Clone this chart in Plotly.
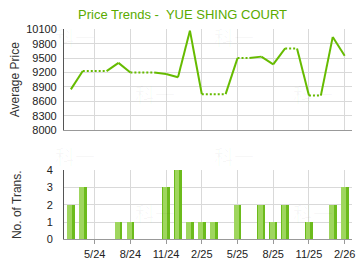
import plotly.graph_objects as go

months = ["3/24", "4/24", "5/24", "6/24", "7/24", "8/24", "9/24", "10/24", "11/24", "12/24",
          "1/25", "2/25", "3/25", "4/25", "5/25", "6/25", "7/25", "8/25", "9/25", "10/25",
          "11/25", "12/25", "1/26", "2/26"]
price = [8850, 9230, 9230, 9230, 9400, 9200, 9200, 9200, 9170, 9100,
         10070, 8750, 8750, 8750, 9500, 9500, 9530, 9370, 9700, 9700,
         8720, 8720, 9940, 9550]
carried = [0, 0, 1, 1, 0, 0, 1, 1, 0, 0, 0, 0, 1, 1, 0, 1, 0, 0, 0, 1, 0, 1, 0, 0]
trans = [2, 3, 0, 0, 1, 1, 0, 0, 3, 4, 1, 1, 1, 0, 2, 0, 2, 1, 2, 0, 1, 0, 2, 3]
tick_labels = ["5/24", "8/24", "11/24", "2/25", "5/25", "8/25", "11/25", "2/26"]

idx = list(range(len(months)))
tick_idx = [months.index(t) for t in tick_labels]

GREEN = "#66bb00"
fig = go.Figure()

# line segments: dotted when the end month has no own price (carried forward)
sx, sy, dx, dy = [], [], [], []
for i in range(len(idx) - 1):
    if carried[i + 1]:
        dx += [idx[i], idx[i + 1], None]
        dy += [price[i], price[i + 1], None]
    else:
        sx += [idx[i], idx[i + 1], None]
        sy += [price[i], price[i + 1], None]

fig.add_trace(go.Scatter(x=sx, y=sy, mode="lines", line=dict(color=GREEN, width=2),
                         xaxis="x", yaxis="y", hoverinfo="skip", showlegend=False))
fig.add_trace(go.Scatter(x=dx, y=dy, mode="lines",
                         line=dict(color=GREEN, width=2, dash="2px,2px"),
                         xaxis="x", yaxis="y", hoverinfo="skip", showlegend=False))

# bars with a simple fake gradient
fig.add_trace(go.Bar(x=idx, y=trans, width=0.66, offset=-0.33,
                     marker=dict(color="#6cbb1c", line=dict(width=0)),
                     xaxis="x2", yaxis="y2", showlegend=False))
fig.add_trace(go.Bar(x=idx, y=trans, width=0.40, offset=-0.29,
                     marker=dict(color="#9fd65e", line=dict(width=0)),
                     xaxis="x2", yaxis="y2", showlegend=False))

W, H = 360, 270
xl, xr = 64.5, 355
xrange = [-0.58, 23.62]

def py(p):
    return 1 - p / H

GRID = "#d9d9d9"
FONT = "Liberation Sans, Arial, sans-serif"

fig.update_layout(
    width=W, height=H, margin=dict(l=0, r=0, t=0, b=0),
    paper_bgcolor="white", plot_bgcolor="white",
    barmode="overlay", bargap=0,
    font=dict(family=FONT, size=11, color="#222"),
    xaxis=dict(domain=[xl / W, xr / W], range=xrange, anchor="y",
               tickvals=tick_idx, showticklabels=False, ticks="",
               showgrid=True, gridcolor=GRID, gridwidth=1,
               showline=True, linecolor="#999", linewidth=1, zeroline=False),
    yaxis=dict(domain=[py(130), py(24.3)], range=[8000, 10100], dtick=300, tick0=8000,
               tickformat="d",
               anchor="x", showgrid=True, gridcolor=GRID, showline=True, linecolor="#555",
               linewidth=1, zeroline=False, ticks="", ticklabelstandoff=4,
               tickfont=dict(size=11, color="#222"),
               title=dict(text="Average Price", font=dict(size=12, color="#333"), standoff=3)),
    xaxis2=dict(domain=[xl / W, xr / W], range=xrange, anchor="y2",
                tickvals=tick_idx, ticktext=tick_labels, ticks="outside", ticklen=4,
                tickcolor="#999", showgrid=True, gridcolor=GRID,
                showline=True, linecolor="#999", linewidth=1, zeroline=False,
                tickfont=dict(size=11, color="#222")),
    yaxis2=dict(domain=[py(244.3), py(171.7)], range=[0, 4], dtick=1,
                anchor="x2", showgrid=True, gridcolor=GRID, showline=True, linecolor="#555",
                linewidth=1, zeroline=False, ticks="", ticklabelstandoff=8,
                tickfont=dict(size=11, color="#222"),
                title=dict(text="No. of Trans.", font=dict(size=12, color="#333"), standoff=22)),
)

annotations = [dict(text="Price Trends -\u00a0 YUE SHING COURT", x=77 / W, y=py(9), xref="paper",
                    yref="paper", xanchor="left", yanchor="middle", showarrow=False,
                    font=dict(size=13, color="#5aaa00", family=FONT))]
for (wx, wy) in [(76, 33), (236, 33), (156, 93), (316, 93),
                 (76, 158), (236, 158), (156, 217), (316, 217)]:
    annotations.append(dict(text="科一", x=wx / W, y=py(wy), xref="paper", yref="paper",
                            showarrow=False, xanchor="center", yanchor="middle",
                            font=dict(size=20, color="rgba(0,0,0,0.03)",
                                      family="Noto Sans CJK SC")))
fig.update_layout(annotations=annotations)

fig.write_html("out.html")
